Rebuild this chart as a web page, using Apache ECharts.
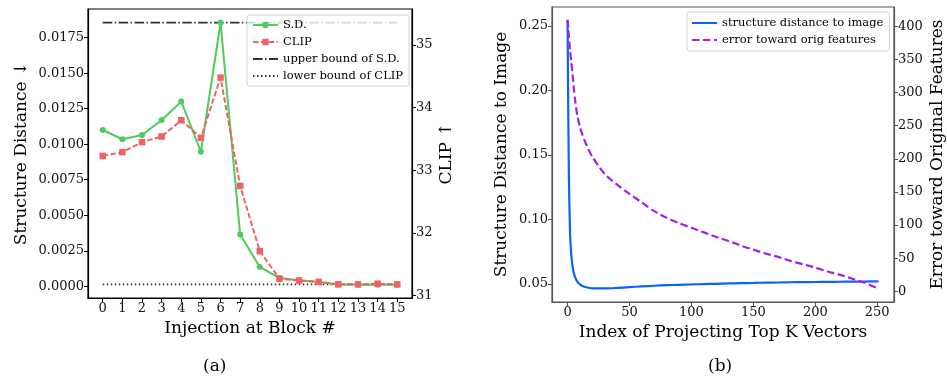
<!DOCTYPE html>
<html>
<head>
<meta charset="utf-8">
<script src="https://cdn.jsdelivr.net/npm/echarts@6/dist/echarts.min.js"></script>
<style>
  html, body { margin: 0; padding: 0; background: #fff; }
  #chart { width: 947px; height: 381px; }
</style>
</head>
<body>
<div id="chart"></div>
<script>
// (a) injection at block #
const blocks = [0, 1, 2, 3, 4, 5, 6, 7, 8, 9, 10, 11, 12, 13, 14, 15];
const sdValues = [0.0110, 0.01035, 0.01065, 0.0117, 0.0130, 0.00947, 0.01856, 0.00364, 0.00136, 0.00058, 0.00042, 0.00030, 0.00012, 0.00010, 0.00010, 0.00010];
const clipValues = [33.23, 33.29, 33.45, 33.54, 33.80, 33.52, 34.48, 32.75, 31.71, 31.27, 31.24, 31.22, 31.18, 31.18, 31.19, 31.18];
const upperBoundSD = 0.01856;
const lowerBoundCLIP = 31.18;
const sdTicks = [0, 0.0025, 0.005, 0.0075, 0.01, 0.0125, 0.015, 0.0175];
const clipTicks = [31, 32, 33, 34, 35];

// (b) projecting top K vectors
const topK = [0, 1, 2, 3, 4, 5, 6, 7, 8, 10, 12, 15, 20, 30, 40, 50, 60, 70, 80, 90, 100, 110, 120, 130, 140, 150, 160, 170, 180, 190, 200, 210, 220, 230, 240, 251];
const distToImage = [0.254, 0.14, 0.09, 0.073, 0.064, 0.059, 0.0555, 0.0533, 0.0517, 0.0497, 0.0485, 0.0475, 0.0467, 0.0466, 0.0470, 0.0476, 0.0482, 0.0487, 0.0491, 0.0494, 0.0497, 0.0500, 0.0502, 0.0505, 0.0507, 0.0509, 0.0511, 0.0512, 0.0514, 0.0515, 0.0516, 0.0517, 0.0518, 0.0519, 0.0520, 0.0521];
const errToOrig = [410, 386, 364, 346, 328, 308, 290, 276, 264, 248, 236, 222, 203, 177, 161, 147, 134, 121, 111, 103, 96, 89, 82, 76, 69, 63, 57, 52, 46, 41, 36, 30, 25, 19, 13, 4];
const kTicks = [0, 50, 100, 150, 200, 250];
const distTicks = [0.05, 0.10, 0.15, 0.20, 0.25];
const errTicks = [0, 50, 100, 150, 200, 250, 300, 350, 400];

const FONT = 'DejaVu Serif';
const GREEN = '#4fcb5b';
const RED = '#f06262';
const BLUE = '#0d63f8';
const PURPLE = '#a020f0';

function axis(opts) {
  const color = opts.color || '#000';
  return {
    type: 'value',
    gridIndex: opts.grid,
    position: opts.position,
    min: opts.min,
    max: opts.max,
    name: opts.name,
    nameLocation: 'middle',
    nameGap: opts.nameGap,
    nameTextStyle: { fontFamily: FONT, fontSize: 17, color: '#000' },
    axisLine: { show: true, onZero: false, lineStyle: { color: color, width: 1.2 } },
    axisTick: { show: true, length: 4, customValues: opts.ticks, lineStyle: { color: color, width: 1 } },
    axisLabel: {
      customValues: opts.ticks,
      fontFamily: FONT, fontSize: 13, color: '#111', margin: 4,
      formatter: opts.fmt
    },
    splitLine: { show: false }
  };
}

// legend entry for a plain line (no marker in the key)
const lineOnly = name => ({ name: name, itemStyle: { opacity: 0 } });

const chart = echarts.init(document.getElementById('chart'));

chart.setOption({
  animation: false,
  grid: [
    { left: 88, top: 9, width: 324, height: 289, show: true, borderColor: '#000', borderWidth: 1.2, backgroundColor: 'transparent' },
    { left: 552, top: 7, width: 342, height: 295, show: true, borderColor: '#555', borderWidth: 1.2, backgroundColor: 'transparent' }
  ],
  xAxis: [
    axis({ grid: 0, position: 'bottom', min: -0.75, max: 15.75, ticks: blocks, name: 'Injection at Block #', nameGap: 20, fmt: v => String(v) }),
    axis({ grid: 1, position: 'bottom', min: -12.55, max: 263.55, ticks: kTicks, name: 'Index of Projecting Top K Vectors', nameGap: 20, color: '#555', fmt: v => String(v) })
  ],
  yAxis: [
    axis({ grid: 0, position: 'left', min: -0.000825, max: 0.01952, ticks: sdTicks, name: 'Structure Distance ↓', nameGap: 58, fmt: v => v.toFixed(4) }),
    axis({ grid: 0, position: 'right', min: 30.962, max: 35.575, ticks: clipTicks, name: 'CLIP ↑', nameGap: 26, fmt: v => String(v) }),
    axis({ grid: 1, position: 'left', min: 0.0361, max: 0.2647, ticks: distTicks, name: 'Structure Distance to Image', nameGap: 42, color: '#555', fmt: v => v.toFixed(2) }),
    axis({ grid: 1, position: 'right', min: -16, max: 429, ticks: errTicks, name: 'Error toward Original Features', nameGap: 35, color: '#555', fmt: v => String(v) })
  ],
  legend: [
    {
      data: ['S.D.', 'CLIP', lineOnly('upper bound of S.D.'), lineOnly('lower bound of CLIP')],
      orient: 'vertical', left: 247, top: 15,
      itemWidth: 25, itemHeight: 8, itemGap: 5,
      padding: [4, 6, 4, 5],
      backgroundColor: 'rgba(255,255,255,0.8)',
      borderColor: '#d0d0d0', borderWidth: 1, borderRadius: 3,
      textStyle: { fontFamily: FONT, fontSize: 11.5, color: '#000', lineHeight: 12 }
    },
    {
      data: [lineOnly('structure distance to image'), lineOnly('error toward orig features')],
      orient: 'vertical', left: 687, top: 12,
      itemWidth: 25, itemHeight: 8, itemGap: 5,
      padding: [5, 6, 5, 4],
      backgroundColor: 'rgba(255,255,255,0.8)',
      borderColor: '#d0d0d0', borderWidth: 1, borderRadius: 3,
      textStyle: { fontFamily: FONT, fontSize: 11.5, color: '#000', lineHeight: 12 }
    }
  ],
  graphic: [
    { type: 'text', left: 203, top: 358, style: { text: '(a)', font: '17px "DejaVu Serif"', fill: '#000' } },
    { type: 'text', left: 708, top: 358, style: { text: '(b)', font: '17px "DejaVu Serif"', fill: '#000' } }
  ],
  series: [
    {
      name: 'upper bound of S.D.', type: 'line', xAxisIndex: 0, yAxisIndex: 0,
      data: [[blocks[0], upperBoundSD], [blocks[blocks.length - 1], upperBoundSD]],
      symbol: 'none', z: 1,
      lineStyle: { color: '#333', width: 1.6, type: [9.6, 2.4, 1.5, 2.4] },
      itemStyle: { color: '#333' }
    },
    {
      name: 'lower bound of CLIP', type: 'line', xAxisIndex: 0, yAxisIndex: 1,
      data: [[blocks[0], lowerBoundCLIP], [blocks[blocks.length - 1], lowerBoundCLIP]],
      symbol: 'none', z: 1,
      lineStyle: { color: '#333', width: 1.6, type: [1.5, 2.5] },
      itemStyle: { color: '#333' }
    },
    {
      name: 'S.D.', type: 'line', xAxisIndex: 0, yAxisIndex: 0,
      data: blocks.map((b, i) => [b, sdValues[i]]),
      symbol: 'circle', symbolSize: 6, z: 3,
      lineStyle: { color: GREEN, width: 2 },
      itemStyle: { color: GREEN }
    },
    {
      name: 'CLIP', type: 'line', xAxisIndex: 0, yAxisIndex: 1,
      data: blocks.map((b, i) => [b, clipValues[i]]),
      symbol: 'rect', symbolSize: 6.5, z: 4,
      lineStyle: { color: RED, width: 2, type: [5.5, 2.4] },
      itemStyle: { color: RED }
    },
    {
      name: 'structure distance to image', type: 'line', xAxisIndex: 1, yAxisIndex: 2,
      data: topK.map((k, i) => [k, distToImage[i]]),
      symbol: 'none', smooth: 0.25,
      lineStyle: { color: BLUE, width: 2.2 },
      itemStyle: { color: BLUE }
    },
    {
      name: 'error toward orig features', type: 'line', xAxisIndex: 1, yAxisIndex: 3,
      data: topK.map((k, i) => [k, errToOrig[i]]),
      symbol: 'none', smooth: 0.25,
      lineStyle: { color: PURPLE, width: 2.2, type: [7.5, 3.5] },
      itemStyle: { color: PURPLE }
    }
  ]
});

window.addEventListener('resize', () => chart.resize());
</script>
</body>
</html>
